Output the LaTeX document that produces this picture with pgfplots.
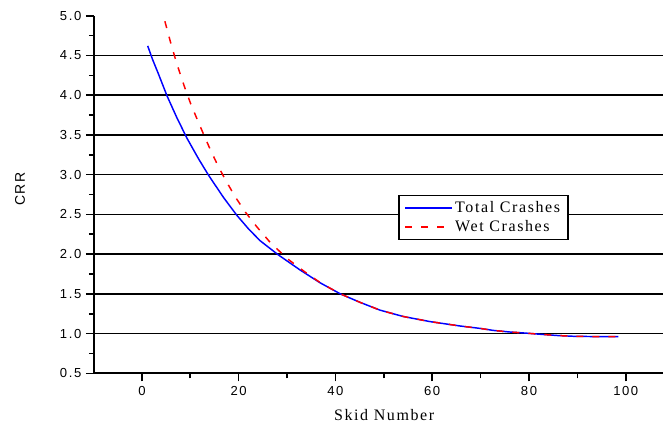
\documentclass[border=0pt]{standalone}
\usepackage{pgfplots}
\pgfplotsset{compat=1.18}
\usepackage{fontspec}
\setmainfont{Liberation Serif}[LetterSpace=10]
\newfontfamily\ticksf{Liberation Sans}[LetterSpace=12]
\definecolor{crblue}{RGB}{0,0,255}
\definecolor{crred}{RGB}{255,0,0}

\begin{document}
\begin{tikzpicture}
\begin{axis}[
  at={(0,0)}, anchor=south west,
  scale only axis,
  width=426.75pt, height=268.2pt,
  xmin=-9.9, xmax=107.7,
  ymin=0.5, ymax=5.0,
  axis lines=left,
  axis line style={-, line width=1.4pt, black},
  xtick={0,20,...,100},
  ytick={0.5,1.0,...,5.0},
  minor x tick num=1,
  minor y tick num=1,
  tick align=outside,
  major tick length=6pt,
  minor tick length=3.75pt,
  every tick/.style={black, line width=1.2pt},
  yticklabel style={/pgf/number format/.cd, fixed, fixed zerofill, precision=1},
  /pgf/number format/assume math mode=true,
  tick label style={font=\ticksf\fontsize{9.8}{11}\selectfont},
  extra y ticks={1.0,1.5,...,4.5},
  extra y tick labels={},
  extra y tick style={grid=major, major tick length=0pt},
  major grid style={black, line width=1.2pt},
  xlabel={Skid Number},
  ylabel={\ticksf CRR},
  every axis x label/.style={at={(axis description cs:0.51,-0.117)}, anchor=center, font=\fontsize{12}{14}\selectfont},
  every axis y label/.style={at={(axis description cs:-0.13,0.515)}, anchor=center, rotate=90, font=\fontsize{10.5}{12}\selectfont},
  legend style={at={(axis description cs:0.535,0.499)}, anchor=north west,
    draw=black, line width=1pt, fill=white, font=\fontsize{12}{14}\selectfont,
    inner xsep=4pt, inner ysep=2.5pt, row sep=0.5pt},
  legend cell align=left,
  legend image code/.code={\draw[#1] (0pt,0pt) -- (35pt,0pt);},
  clip=false,
]
\addplot[crblue, line width=1.1pt] coordinates {
  (1.2,4.62) (2.2,4.45) (3.4,4.27) (5.2,3.99) (7.2,3.72) (9.3,3.46)
  (11.7,3.20) (13.8,2.99) (16.9,2.71) (19.6,2.49) (22.0,2.32) (24.4,2.17)
  (28.2,1.99) (32.7,1.80) (36.8,1.64) (41.0,1.50) (45.0,1.395) (49.2,1.295)
  (54.0,1.215) (59.6,1.15) (65.8,1.095) (69.9,1.065) (72.6,1.04) (76.0,1.02)
  (79.5,1.005) (82.6,0.99) (86.0,0.975) (89.5,0.965) (94.0,0.962) (98.5,0.962)
};
\addlegendentry{Total Crashes}
\addplot[crred, line width=1.1pt, dash pattern=on 5.25pt off 6.75pt] coordinates {
  (4.75,4.93) (5.9,4.67) (7.0,4.44) (8.0,4.25) (9.0,4.07) (10.1,3.89)
  (11.4,3.70) (12.7,3.515) (14.1,3.32) (15.5,3.14) (17.2,2.94) (19.3,2.72)
  (21.3,2.535) (23.8,2.34) (26.4,2.155) (30.0,1.945) (33.7,1.775) (37.0,1.635)
  (41.0,1.50) (45.0,1.395) (49.2,1.295) (54.0,1.215) (59.6,1.15) (65.8,1.095)
  (69.9,1.065) (72.6,1.04) (76.0,1.02) (79.5,1.005) (82.6,0.99) (86.0,0.975)
  (89.5,0.965) (94.0,0.962) (98.5,0.962)
};
\addlegendentry{Wet Crashes}
\end{axis}
\pgfresetboundingbox
\useasboundingbox (-70.5pt,-38.775pt) rectangle (426.75pt,279.975pt);
\end{tikzpicture}
\end{document}
